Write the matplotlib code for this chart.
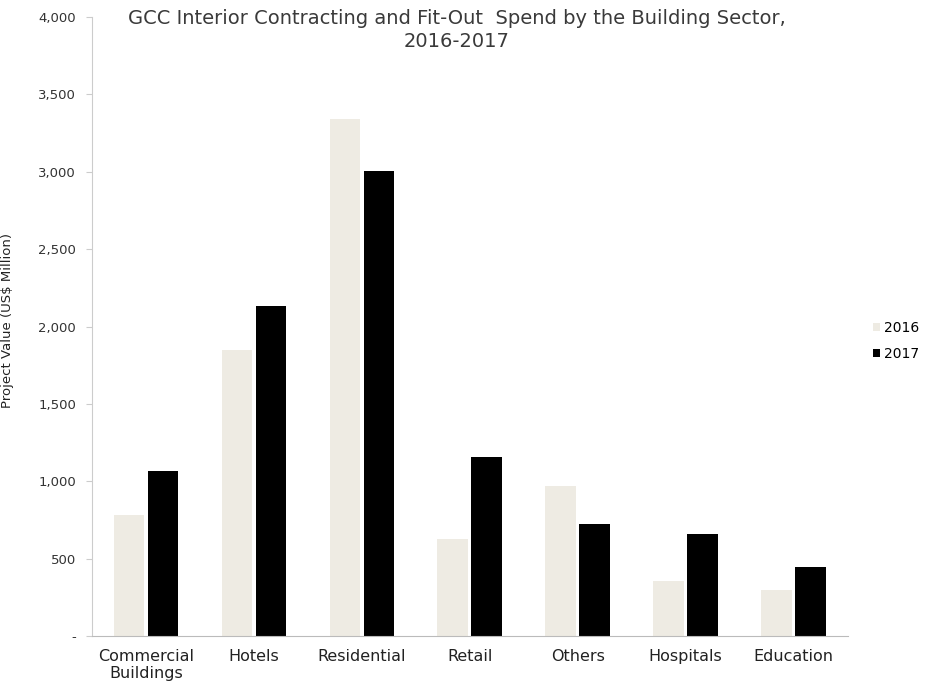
import matplotlib
matplotlib.use("Agg")
import matplotlib.pyplot as plt
import numpy as np
from matplotlib.patches import Patch

plt.rcParams['font.family'] = ['DejaVu Sans']

# 数据（从图上估读，单位 US$ Million）
categories = ["Commercial\nBuildings", "Hotels", "Residential", "Retail",
              "Others", "Hospitals", "Education"]
values_2016 = [785, 1846, 3340, 628, 968, 359, 300]
values_2017 = [1064, 2135, 3006, 1160, 725, 660, 449]
series_names = ["2016", "2017"]
y_ticks = [0, 500, 1000, 1500, 2000, 2500, 3000, 3500, 4000]
y_tick_labels = ["-", "500", "1,000", "1,500", "2,000", "2,500", "3,000", "3,500", "4,000"]

color_2016 = "#eeebe3"
color_2017 = "#000000"

fig = plt.figure(figsize=(9.26, 6.84), dpi=100)
ax = fig.add_axes([0.0994, 0.070, 0.816, 0.905])

x = np.arange(len(categories))
w = 0.285
ax.bar(x - w / 2 - 0.015, values_2016, width=w, color=color_2016)
ax.bar(x + w / 2 + 0.015, values_2017, width=w, color=color_2017)

ax.set_xlim(-0.5, len(categories) - 0.5)
ax.set_ylim(0, 4000)
ax.set_yticks(y_ticks)
ax.set_yticklabels(y_tick_labels, fontsize=9.5, color="#333333")
ax.set_xticks(x)
ax.set_xticklabels(categories, fontsize=11.5, color="#222222", linespacing=1.2)
ax.tick_params(axis="x", length=0, pad=9)
ax.tick_params(axis="y", length=4, color="#cccccc", pad=7.5)

for s in ["top", "right"]:
    ax.spines[s].set_visible(False)
ax.spines["left"].set_color("#cccccc")
ax.spines["bottom"].set_color("#bbbbbb")
ax.spines["bottom"].set_linestyle((0, (3, 1)))

fig.text(8 / 926, 1 - 321 / 684, "Project Value (US$ Million)", rotation=90,
         ha="center", va="center", fontsize=9.5, color="#222222")

fig.text(457 / 926, 1 - 30 / 684,
         "GCC Interior Contracting and Fit-Out  Spend by the Building Sector,\n2016-2017",
         ha="center", va="center", fontsize=14, color="#3a3a3a", linespacing=1.3)

handles = [Patch(facecolor=color_2016), Patch(facecolor=color_2017)]
fig.legend(handles, series_names, loc="center left", bbox_to_anchor=(0.937, 0.502),
           frameon=False, fontsize=10, handlelength=0.5, handleheight=0.5,
           handletextpad=0.3, labelspacing=0.85, borderaxespad=0)

fig.savefig("out.png", dpi=100)
